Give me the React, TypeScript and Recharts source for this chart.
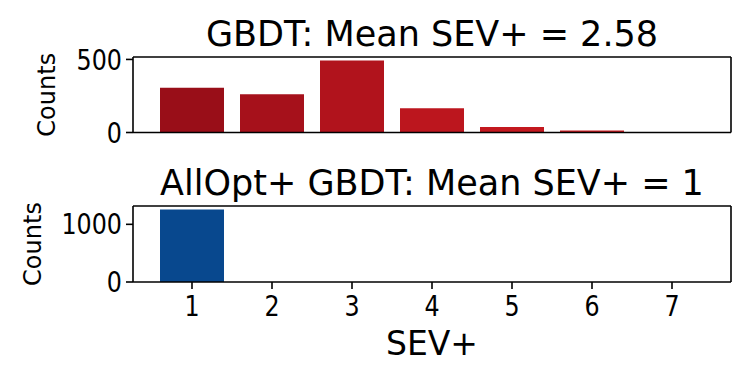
import React from "react";
import { BarChart, Bar, Cell, XAxis, YAxis, Label } from "recharts";

// SEV+ levels on the shared x axis
const sevLevels = ["1", "2", "3", "4", "5", "6", "7"];

// counts per SEV+ level
const gbdtCounts = [307, 262, 492, 166, 38, 13, 4];
const allOptCounts = [1255, 0, 0, 0, 0, 0, 0];

const gbdtColors = ["#990e18", "#a6111b", "#b1131c", "#bc161e", "#c3181f", "#c71a20", "#ca1b21"];
const allOptColor = "#08488e";

const gbdtTicks = [0, 500];
const allOptTicks = [0, 1000];

const gbdtTitle = "GBDT: Mean SEV+ = 2.58";
const allOptTitle = "AllOpt+ GBDT: Mean SEV+ = 1";

const FONT = "'DejaVu Sans', sans-serif";
const W = 750;
const AXIS_X = 133;
const AXIS_R = 18;
const STROKE = 1.6;
const TICK_FS = 28;
const TICK_SX = 0.85;

const gbdtRows = sevLevels.map((sev, i) => ({ sev, count: gbdtCounts[i] }));
const allOptRows = sevLevels.map((sev, i) => ({ sev, count: allOptCounts[i] }));

function titleContent(text: string) {
  return (props: any) => {
    const vb = props.viewBox;
    return (
      <text x={vb.x + vb.width / 2} y={vb.y + vb.height - 11} textAnchor="middle" fontSize={35} fontFamily={FONT} fill="#000">
        {text}
      </text>
    );
  };
}

function countsContent(offset: number) {
  return (props: any) => {
    const vb = props.viewBox;
    const cx = vb.x + offset;
    const cy = vb.y + vb.height / 2;
    return (
      <text
        x={cx}
        y={cy}
        transform={`rotate(-90, ${cx}, ${cy})`}
        textAnchor="middle"
        dominantBaseline="central"
        fontSize={24}
        fontFamily={FONT}
        fill="#000"
      >
        Counts
      </text>
    );
  };
}

function xLabelContent(props: any) {
  const vb = props.viewBox;
  return (
    <text x={vb.x + vb.width / 2} y={vb.y + 73} textAnchor="middle" fontSize={33} fontFamily={FONT} fill="#000">
      SEV+
    </text>
  );
}

function YTick(props: any) {
  const { x, y, payload } = props;
  return (
    <text
      transform={`translate(${x},${y}) scale(${TICK_SX},1)`}
      textAnchor="end"
      dy="0.36em"
      fontSize={TICK_FS}
      fontFamily={FONT}
      fill="#000"
    >
      {payload.value}
    </text>
  );
}

function XTick(props: any) {
  const { x, y, payload } = props;
  return (
    <text
      transform={`translate(${x},${y}) scale(${TICK_SX},1)`}
      textAnchor="middle"
      dy="0.74em"
      fontSize={TICK_FS}
      fontFamily={FONT}
      fill="#000"
    >
      {payload.value}
    </text>
  );
}

function Panel(props: {
  rows: { sev: string; count: number }[];
  colors: string[];
  ticks: number[];
  title: string;
  height: number;
  top: number;
  plotBottom: number;
  showX: boolean;
  labelOffset: number;
}) {
  const { rows, colors, ticks, title, height, top, plotBottom, showX, labelOffset } = props;
  const yMax = Math.max(...rows.map((r) => r.count)) * 1.05;
  return (
    <BarChart
      width={W}
      height={height}
      data={rows}
      margin={{ top: top - 1, right: AXIS_R, left: 0, bottom: 0 }}
      barCategoryGap="10%"
    >
      <XAxis
        dataKey="sev"
        type="category"
        padding={{ left: 19, right: 19 }}
        height={height - plotBottom}
        axisLine={{ stroke: "#000", strokeWidth: STROKE }}
        tick={showX ? <XTick /> : false}
        tickLine={showX ? { stroke: "#000", strokeWidth: STROKE } : false}
        tickSize={7}
        tickMargin={6}
        interval={0}
      >
        {showX && <Label content={xLabelContent} />}
      </XAxis>
      <XAxis
        xAxisId="top"
        dataKey="sev"
        orientation="top"
        height={1}
        tick={false}
        tickLine={false}
        axisLine={{ stroke: "#000", strokeWidth: STROKE }}
      >
        <Label content={titleContent(title)} />
      </XAxis>
      <YAxis
        type="number"
        domain={[0, yMax]}
        ticks={ticks}
        width={AXIS_X}
        axisLine={{ stroke: "#000", strokeWidth: STROKE }}
        tickLine={{ stroke: "#000", strokeWidth: STROKE }}
        tick={<YTick />}
        tickSize={7}
        tickMargin={4}
        interval={0}
      >
        <Label content={countsContent(labelOffset)} />
      </YAxis>
      <YAxis
        yAxisId="right"
        orientation="right"
        type="number"
        domain={[0, yMax]}
        width={1}
        tick={false}
        tickLine={false}
        axisLine={{ stroke: "#000", strokeWidth: STROKE }}
      />
      <Bar dataKey="count" isAnimationActive={false}>
        {rows.map((r, i) => (
          <Cell key={r.sev} fill={colors[i % colors.length]} />
        ))}
      </Bar>
    </BarChart>
  );
}

export default function App() {
  return (
    <div style={{ position: "absolute", left: 0, top: 0, width: W, height: 375, background: "#fff" }}>
      <Panel
        rows={gbdtRows}
        colors={gbdtColors}
        ticks={gbdtTicks}
        title={gbdtTitle}
        height={150}
        top={57}
        plotBottom={132.5}
        showX={false}
        labelOffset={47}
      />
      <Panel
        rows={allOptRows}
        colors={[allOptColor]}
        ticks={allOptTicks}
        title={allOptTitle}
        height={225}
        top={56}
        plotBottom={132}
        showX={true}
        labelOffset={33}
      />
    </div>
  );
}
